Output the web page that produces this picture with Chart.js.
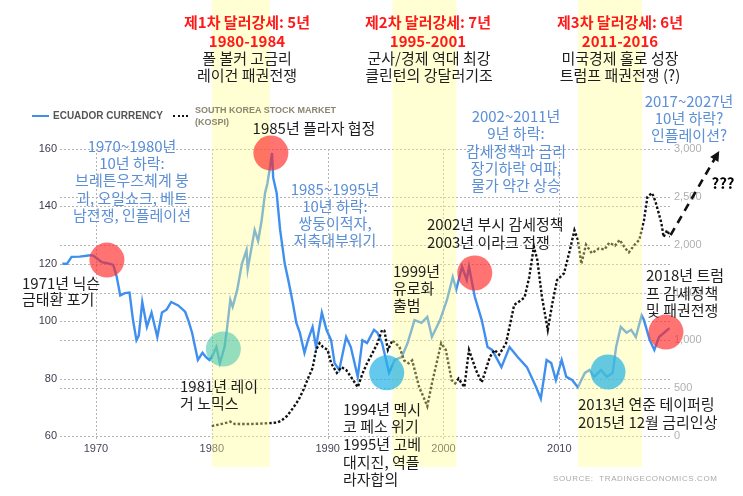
<!DOCTYPE html>
<html>
<head>
<meta charset="utf-8">
<script src="https://cdn.jsdelivr.net/npm/chart.js@4.4.1/dist/chart.umd.min.js"></script>
<style>
  body { margin: 0; background: #fff; }
  #wrap { position: relative; width: 743px; height: 496px; overflow: hidden; }
  #wrap canvas { position: absolute; left: 0; top: 0; }
  .note { position: absolute; white-space: nowrap; line-height: 1; font-family: "Noto Sans CJK KR", "Noto Sans", sans-serif; font-size: 15px; }
  .leg { position: absolute; white-space: nowrap; line-height: 1; font-family: "Liberation Sans", Arial, sans-serif; font-size: 9.5px; font-weight: bold; }
</style>
</head>
<body>
<div id="wrap">
  <canvas id="chart" width="743" height="496"></canvas>
</div>
<script>
// dollar index ("ECUADOR CURRENCY"), left axis
const dxyYears = [1967.1, 1967.5, 1967.9, 1968.6, 1969.5, 1969.8, 1970.2, 1970.5, 1971.0, 1971.5, 1971.8, 1972.1, 1972.5, 1972.9,
  1973.2, 1973.5, 1973.7, 1974.0, 1974.4, 1974.8, 1975.3, 1975.7, 1976.1, 1976.5, 1977.1, 1977.7, 1978.0, 1978.3, 1978.8,
  1979.2, 1979.5, 1979.8, 1980.0, 1980.4, 1980.7, 1981.1, 1981.3, 1981.6, 1981.8, 1982.2, 1982.6, 1983.0, 1983.1, 1983.7,
  1984.0, 1984.3, 1984.6, 1984.8, 1985.2, 1985.3, 1985.6, 1985.9, 1986.3, 1986.6, 1987.0, 1987.3, 1987.6, 1988.0, 1988.3,
  1988.7, 1989.0, 1989.5, 1989.9, 1990.3, 1990.6, 1991.0, 1991.6, 1992.0, 1992.6, 1993.0, 1993.4, 1994.0, 1994.3, 1994.7,
  1995.3, 1995.8, 1996.4, 1996.9, 1997.5, 1998.1, 1998.6, 1999.0, 1999.7, 2000.3, 2000.8, 2001.1, 2001.6, 2002.0, 2002.2,
  2002.7, 2003.3, 2003.8, 2004.2, 2005.0, 2005.7, 2006.4, 2007.2, 2008.0, 2008.4, 2008.9, 2009.3, 2009.7, 2010.2, 2010.6,
  2011.1, 2011.6, 2012.2, 2012.6, 2013.0, 2013.6, 2014.1, 2014.6, 2014.9, 2015.3, 2015.8, 2016.2, 2016.6, 2017.1, 2017.3,
  2017.8, 2018.2, 2018.6, 2019.5];
const dxyValues = [120, 120, 122.4, 122.5, 123, 122.8, 121.5, 120.6, 120.2, 119.6, 115.4, 109, 109.8, 110,
  100.4, 93.4, 95, 106.7, 98, 103, 94.5, 103, 104, 106.7, 105.5, 103.3, 100, 96, 86.5,
  89, 87.5, 86.5, 87.5, 91, 85.4, 91, 97, 107.4, 105, 111, 120, 124.8, 118, 131.8,
  128, 135, 144.7, 148, 158.6, 150, 144.7, 131.8, 120, 114.4, 106.3, 99.4, 96, 89, 93.4,
  98, 91, 103, 97, 93.4, 85.4, 83, 94.5, 91, 80.6, 93.4, 92.4, 97, 96, 92.4,
  82, 86.5, 87.5, 92.4, 100.4, 99.4, 101.5, 94.5, 100.4, 107.4, 115.4, 111, 119, 114.4, 119,
  108.5, 100.4, 91, 90, 84, 91, 87.5, 84, 77, 73, 86.5, 85.4, 79.5, 86.5, 80.6,
  79.5, 77, 82, 83, 80.6, 83, 80.6, 82, 91, 98, 96, 97, 94.5, 102, 100.4,
  93.4, 90, 94.5, 97.6];

// KOSPI, right axis
const kospiYears = [1980.0, 1980.8, 1981.3, 1981.6, 1982.0, 1983.0, 1984.0, 1985.0, 1985.6, 1986.0, 1986.5, 1987.0, 1987.5,
  1987.9, 1988.3, 1988.7, 1989.0, 1989.3, 1989.6, 1990.0, 1990.3, 1990.8, 1991.2, 1991.6, 1992.0, 1992.6, 1993.0, 1993.4,
  1993.8, 1994.3, 1994.7, 1994.9, 1995.2, 1995.6, 1996.2, 1996.6, 1997.0, 1997.3, 1997.9, 1998.3, 1998.6, 1999.0, 1999.4,
  1999.8, 2000.2, 2000.7, 2001.0, 2001.3, 2001.8, 2002.2, 2002.8, 2003.3, 2004.0, 2004.4, 2004.8, 2005.4, 2006.1, 2006.7,
  2007.0, 2007.4, 2007.8, 2008.1, 2008.5, 2009.0, 2009.4, 2009.8, 2010.4, 2010.9, 2011.3, 2011.6, 2011.9, 2012.3, 2012.8,
  2013.4, 2013.9, 2014.3, 2014.8, 2015.2, 2015.7, 2016.0, 2016.5, 2016.9, 2017.3, 2017.6, 2018.0, 2018.3, 2018.8, 2019.0,
  2019.3, 2019.6];
const kospiValues = [104, 125, 140, 150, 125, 125, 128, 135, 140, 160, 210, 290, 380,
  480, 600, 710, 900, 970, 930, 900, 760, 660, 720, 690, 620, 510, 650, 760,
  850, 970, 1110, 1100, 900, 1000, 930, 790, 760, 790, 510, 400, 310, 550, 760,
  970, 900, 585, 550, 600, 510, 900, 690, 560, 825, 900, 850, 970, 1370, 1420,
  1450, 1660, 1980, 1840, 1450, 1110, 1390, 1630, 1700, 1940, 2150, 2050, 1800, 2000, 1910,
  1960, 1950, 2020, 1990, 2050, 1960, 1920, 2000, 2050, 2250, 2500, 2540, 2450, 2230, 2080,
  2150, 2080];

// dashed "???" projection (right axis)
const arrowYears = [2019.6, 2023.8];
const arrowValues = [2100, 2980];

// highlighted events (left axis)
const circleYears = [1970.95, 1981.0, 1985.1, 1995.1, 2002.7, 2014.2, 2019.2];
const circleValues = [121.3, 90.3, 158.6, 82, 116.8, 82.3, 96.2];
const circleKinds = ['red', 'teal', 'red', 'cyan', 'red', 'cyan', 'red'];

// strong-dollar periods
const bandStarts = [1980.0, 1995.6, 2011.6];
const bandEnds = [1985.0, 2001.1, 2017.15];

const yearTicks = [1970, 1980, 1990, 2000, 2010];
const leftTicks = [60, 80, 100, 120, 140, 160];
const rightTicks = [0, 500, 1000, 1500, 2000, 2500, 3000];

const circleColors = {
  red: 'rgba(255,40,40,0.65)',
  teal: 'rgba(60,195,170,0.55)',
  cyan: 'rgba(40,180,228,0.72)'
};

// dotted grid taken from the scales' own ticks
const dottedGrid = {
  id: 'dottedGrid',
  beforeDatasetsDraw(chart) {
    const ctx = chart.ctx;
    const a = chart.chartArea;
    ctx.save();
    ctx.strokeStyle = '#b4b4b4';
    ctx.lineWidth = 1;
    ctx.setLineDash([2, 2]);
    ctx.beginPath();
    for (const t of chart.scales.x.ticks) {
      const x = Math.round(chart.scales.x.getPixelForValue(t.value)) + 0.5;
      ctx.moveTo(x, a.top);
      ctx.lineTo(x, a.bottom + 4);
    }
    for (const id of ['y', 'y2']) {
      for (const t of chart.scales[id].ticks) {
        const y = Math.round(chart.scales[id].getPixelForValue(t.value)) + 0.5;
        ctx.moveTo(a.left, y);
        ctx.lineTo(a.right, y);
      }
    }
    ctx.stroke();
    ctx.restore();
  }
};

const bandsPlugin = {
  id: 'bands',
  afterDatasetDraw(chart, args) {
    if (args.index !== 1) return;
    const ctx = chart.ctx;
    const xs = chart.scales.x;
    ctx.save();
    ctx.fillStyle = 'rgba(255,255,140,0.38)';
    for (let i = 0; i < bandStarts.length; i++) {
      const x1 = xs.getPixelForValue(bandStarts[i]);
      const x2 = xs.getPixelForValue(bandEnds[i]);
      ctx.fillRect(x1, 0, x2 - x1, chart.chartArea.bottom + 31);
    }
    ctx.restore();
  }
};

const arrowPlugin = {
  id: 'arrow',
  afterDatasetsDraw(chart) {
    const ctx = chart.ctx;
    const xs = chart.scales.x, ys = chart.scales.y2;
    const x1 = xs.getPixelForValue(arrowYears[0]), y1 = ys.getPixelForValue(arrowValues[0]);
    const x2 = xs.getPixelForValue(arrowYears[1]), y2 = ys.getPixelForValue(arrowValues[1]);
    const ang = Math.atan2(y2 - y1, x2 - x1);
    ctx.save();
    ctx.strokeStyle = '#111';
    ctx.lineWidth = 2.6;
    ctx.setLineDash([8, 6]);
    ctx.beginPath();
    ctx.moveTo(x1, y1);
    ctx.lineTo(x2 - 6 * Math.cos(ang), y2 - 6 * Math.sin(ang));
    ctx.stroke();
    ctx.setLineDash([]);
    ctx.fillStyle = '#111';
    ctx.beginPath();
    ctx.moveTo(x2, y2);
    ctx.lineTo(x2 - 11 * Math.cos(ang - 0.45), y2 - 11 * Math.sin(ang - 0.45));
    ctx.lineTo(x2 - 11 * Math.cos(ang + 0.45), y2 - 11 * Math.sin(ang + 0.45));
    ctx.closePath();
    ctx.fill();
    ctx.restore();
  }
};

const noGrid = { display: false, drawTicks: false };
const noBorder = { display: false };

new Chart(document.getElementById('chart'), {
  type: 'line',
  data: {
    datasets: [
      {
        label: 'ECUADOR CURRENCY',
        data: dxyYears.map((x, i) => ({ x: x, y: dxyValues[i] })),
        borderColor: '#3f8ff0',
        borderWidth: 2.4,
        pointRadius: 0,
        tension: 0,
        yAxisID: 'y',
        order: 3
      },
      {
        label: 'SOUTH KOREA STOCK MARKET (KOSPI)',
        data: kospiYears.map((x, i) => ({ x: x, y: kospiValues[i] })),
        borderColor: '#111',
        borderWidth: 2.4,
        borderDash: [2.5, 2],
        pointRadius: 0,
        tension: 0,
        yAxisID: 'y2',
        order: 2
      },
      {
        type: 'bubble',
        data: circleYears.map((x, i) => ({ x: x, y: circleValues[i], r: 17.5 })),
        backgroundColor: circleKinds.map(k => circleColors[k]),
        borderWidth: 0,
        hoverRadius: 0,
        clip: false,
        yAxisID: 'y',
        order: 0
      }
    ]
  },
  options: {
    responsive: false,
    animation: false,
    events: [],
    layout: { padding: { top: 149, left: 0, right: 0, bottom: 0 } },
    plugins: { legend: { display: false }, tooltip: { enabled: false } },
    scales: {
      x: {
        type: 'linear',
        min: 1966.9,
        max: 2019.55,
        afterBuildTicks: s => { s.ticks = yearTicks.map(v => ({ value: v })); },
        afterFit: s => { s.height = 60; },
        grid: noGrid,
        border: noBorder,
        ticks: { padding: 6, color: '#4a4458', font: { family: 'Liberation Sans', size: 11 }, callback: v => String(v) }
      },
      y: {
        position: 'left',
        min: 60,
        max: 160,
        afterBuildTicks: s => { s.ticks = leftTicks.map(v => ({ value: v })); },
        afterFit: s => { s.width = 60; },
        grid: noGrid,
        border: noBorder,
        ticks: { padding: 3, color: '#3e3a4c', font: { family: 'Liberation Sans', size: 11 } }
      },
      y2: {
        position: 'right',
        min: 0,
        max: 3000,
        afterBuildTicks: s => { s.ticks = rightTicks.map(v => ({ value: v })); },
        afterFit: s => { s.width = 73; },
        grid: noGrid,
        border: noBorder,
        ticks: { padding: 4, color: '#b0b0b0', font: { family: 'Liberation Sans', size: 11 } }
      }
    }
  },
  plugins: [dottedGrid, bandsPlugin, arrowPlugin]
});

// text annotations
const RED = '#ff1a1a', INK = '#1e1e1e', BLUE = '#5b8fd6';
const notes = [
  // headers
  ['제1차 달러강세: 5년', 247, 21, RED, 'c', 'bold'],
  ['1980-1984', 247, 40, RED, 'c', 'bold'],
  ['폴 볼커 고금리', 247, 57, INK, 'c'],
  ['레이건 패권전쟁', 247, 74, INK, 'c'],
  ['제2차 달러강세: 7년', 428, 21, RED, 'c', 'bold'],
  ['1995-2001', 428, 40, RED, 'c', 'bold'],
  ['군사/경제 역대 최강', 429, 57, INK, 'c'],
  ['클린턴의 강달러기조', 429, 74, INK, 'c'],
  ['제3차 달러강세: 6년', 620, 21, RED, 'c', 'bold'],
  ['2011-2016', 620, 40, RED, 'c', 'bold'],
  ['미국경제 홀로 성장', 620, 57, INK, 'c'],
  ['트럼프 패권전쟁 (?)', 620, 74, INK, 'c'],
  // blue comments
  ['1970~1980년', 132, 145, BLUE, 'c'],
  ['10년 하락:', 132, 162, BLUE, 'c'],
  ['브레튼우즈체계 붕', 132, 179, BLUE, 'c'],
  ['괴, 오일쇼크, 베트', 132, 197, BLUE, 'c'],
  ['남전쟁, 인플레이션', 132, 214, BLUE, 'c'],
  ['1985~1995년', 335, 188, BLUE, 'c'],
  ['10년 하락:', 335, 205, BLUE, 'c'],
  ['쌍둥이적자,', 335, 222, BLUE, 'c'],
  ['저축대부위기', 335, 239, BLUE, 'c'],
  ['2002~2011년', 516, 115, BLUE, 'c'],
  ['9년 하락:', 516, 132, BLUE, 'c'],
  ['감세정책과 금리', 516, 150, BLUE, 'c'],
  ['장기하락 여파,', 516, 167, BLUE, 'c'],
  ['물가 약간 상승', 516, 184, BLUE, 'c'],
  ['2017~2027년', 689, 100, BLUE, 'c'],
  ['10년 하락?', 689, 117, BLUE, 'c'],
  ['인플레이션?', 689, 134, BLUE, 'c'],
  // black event notes
  ['1985년 플라자 협정', 314, 127, INK, 'c'],
  ['1971년 닉슨', 22, 282, INK, 'l'],
  ['금태환 포기', 22, 298, INK, 'l'],
  ['1981년 레이', 180, 385, INK, 'l'],
  ['거 노믹스', 180, 402, INK, 'l'],
  ['1994년 멕시', 343, 408, INK, 'l'],
  ['코 페소 위기', 343, 425, INK, 'l'],
  ['1995년 고베', 343, 443, INK, 'l'],
  ['대지진, 역플', 343, 461, INK, 'l'],
  ['라자합의', 343, 478, INK, 'l'],
  ['1999년', 393, 270, INK, 'l'],
  ['유로화', 393, 287, INK, 'l'],
  ['출범', 393, 304, INK, 'l'],
  ['2002년 부시 감세정책', 427, 223, INK, 'l'],
  ['2003년 이라크 전쟁', 427, 241, INK, 'l'],
  ['2018년 트럼', 646, 274, INK, 'l'],
  ['프 감세정책', 646, 292, INK, 'l'],
  ['및 패권전쟁', 646, 309, INK, 'l'],
  ['2013년 연준 테이퍼링', 578, 403, INK, 'l'],
  ['2015년 12월 금리인상', 578, 421, INK, 'l'],
  ['???', 723, 182, '#000', 'c', 'bold']
];

const wrap = document.getElementById('wrap');
for (const [text, x, y, color, align, weight] of notes) {
  const d = document.createElement('div');
  d.className = 'note';
  d.textContent = text;
  d.style.left = x + 'px';
  d.style.top = y + 'px';
  d.style.color = color;
  if (weight) d.style.fontWeight = weight;
  d.style.transform = align === 'c' ? 'translate(-50%,-50%)' : 'translate(0,-50%)';
  wrap.appendChild(d);
}

// legend, drawn like the source chart
function addLeg(html, x, y, color, size) {
  const d = document.createElement('div');
  d.className = 'leg';
  d.innerHTML = html;
  d.style.left = x + 'px';
  d.style.top = y + 'px';
  d.style.color = color;
  d.style.fontSize = size + 'px';
  d.style.transform = 'translate(0,-50%)';
  wrap.appendChild(d);
  return d;
}
const blueKey = document.createElement('div');
blueKey.style.cssText = 'position:absolute;left:32px;top:115px;width:17px;border-top:2px solid #3f8ff0;';
wrap.appendChild(blueKey);
const blackKey = document.createElement('div');
blackKey.style.cssText = 'position:absolute;left:173px;top:115px;width:15px;border-top:2px dotted #111;';
wrap.appendChild(blackKey);
addLeg('ECUADOR CURRENCY', 53, 116, '#555', 10);
addLeg('SOUTH KOREA STOCK MARKET', 195, 110, '#8c8670', 9);
addLeg('(KOSPI)', 195, 122, '#8c8670', 9);
const src = addLeg('SOURCE:&nbsp;&nbsp;TRADINGECONOMICS.COM', 553, 479, '#aaa', 8);
src.style.fontWeight = 'normal';
src.style.letterSpacing = '0.6px';
</script>
</body>
</html>
